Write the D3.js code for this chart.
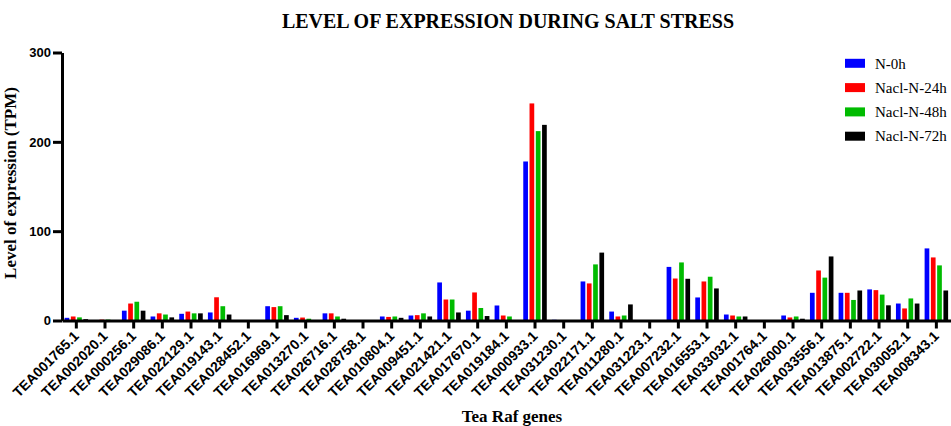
<!DOCTYPE html>
<html>
<head>
<meta charset="utf-8">
<script src="https://cdn.jsdelivr.net/npm/d3@7"></script>
<style>
  html, body { margin: 0; padding: 0; background: #fff; }
  svg { display: block; }
</style>
</head>
<body>
<svg id="chart" width="951" height="426"></svg>
<script>
const categories = ["TEA001765.1","TEA002020.1","TEA000256.1","TEA029086.1","TEA022129.1","TEA019143.1","TEA028452.1","TEA016969.1","TEA013270.1","TEA026716.1","TEA028758.1","TEA010804.1","TEA009451.1","TEA021421.1","TEA017670.1","TEA019184.1","TEA000933.1","TEA031230.1","TEA022171.1","TEA011280.1","TEA031223.1","TEA007232.1","TEA016553.1","TEA033032.1","TEA001764.1","TEA026000.1","TEA033556.1","TEA013875.1","TEA002722.1","TEA030052.1","TEA008343.1"];
const seriesNames = ["N-0h","Nacl-N-24h","Nacl-N-48h","Nacl-N-72h"];
const seriesColors = ["#0000ff","#ff0000","#00bb00","#000000"];
const n0h  = [3, 0.5, 11, 4.5, 7.5, 9, 0, 16, 3, 8, 0, 4.5, 5.6, 42.6, 11, 16.8, 178, 0.8, 43.7, 10, 0, 60, 25.8, 6.7, 0.5, 5.6, 31, 31, 34.8, 19, 80.7];
const n24h = [4.5, 1, 19, 8, 10, 26, 0, 15, 3.3, 8, 0, 4, 6, 23.5, 31.4, 5.6, 243, 0.5, 41.5, 4.5, 0, 47, 43.7, 5.6, 0, 3.4, 56, 31, 34, 13.5, 70.6];
const n48h = [3.5, 1, 21, 6.7, 8, 16, 0, 16, 2, 4.5, 0, 4.5, 8, 23.5, 14, 4.5, 212, 0.3, 62.8, 5.6, 0, 65, 49, 4.5, 0, 4.5, 48, 23, 29, 24.7, 61.7];
const n72h = [1.5, 0, 11, 3.5, 8, 6.7, 0, 6, 0.5, 2, 0, 3, 4.5, 9, 5, 0, 219, 0, 76, 18, 0, 46.7, 35.9, 4.5, 0, 2, 71.7, 33.6, 17, 19, 33.6];
const yTicks = [0, 100, 200, 300];
const titleText = "LEVEL OF EXPRESSION DURING SALT STRESS";
const xTitle = "Tea Raf genes";
const yTitle = "Level of expression (TPM)";

const seriesValues = [n0h, n24h, n48h, n72h];
const svg = d3.select("#chart");

const x0 = d3.scaleBand().domain(categories).range([62, 950.7]).paddingInner(0.18).paddingOuter(0.09);
const x1 = d3.scaleBand().domain(seriesNames).range([0, x0.bandwidth()]).paddingInner(0.25);
const y = d3.scaleLinear().domain([0, 300]).range([320.5, 52.5]);
const color = d3.scaleOrdinal().domain(seriesNames).range(seriesColors);

// bars
const groups = svg.append("g").selectAll("g").data(categories).join("g")
  .attr("transform", d => `translate(${x0(d)},0)`);
groups.selectAll("rect")
  .data((c, i) => seriesNames.map((s, k) => ({ s, v: seriesValues[k][i] })))
  .join("rect")
  .attr("x", d => x1(d.s))
  .attr("width", x1.bandwidth())
  .attr("y", d => y(d.v))
  .attr("height", d => Math.max(0, y(0) - y(d.v)))
  .attr("fill", d => color(d.s));

// x axis
const xAxis = svg.append("g").attr("transform", `translate(0,${y(0)})`)
  .call(d3.axisBottom(x0).tickSize(8).tickSizeOuter(0).tickPadding(4));
xAxis.select(".domain").attr("stroke", "#000").attr("stroke-width", 3);
xAxis.selectAll(".tick line").attr("stroke", "#000").attr("stroke-width", 3);
xAxis.selectAll(".tick text")
  .attr("font-family", "'Liberation Sans', Arial, sans-serif")
  .attr("font-weight", "bold")
  .attr("font-size", 14)
  .attr("fill", "#000")
  .attr("text-anchor", "end")
  .attr("x", 0).attr("y", 0)
  .attr("dy", "0.35em")
  .attr("transform", "translate(0,13) rotate(-45)");

// y axis
const yAxis = svg.append("g").attr("transform", "translate(62,0)")
  .call(d3.axisLeft(y).tickValues(yTicks).tickSize(9).tickSizeOuter(0).tickPadding(2));
yAxis.select(".domain").attr("stroke", "#000").attr("stroke-width", 3);
yAxis.selectAll(".tick line").attr("stroke", "#000").attr("stroke-width", 3);
yAxis.selectAll(".tick text")
  .attr("font-family", "'Liberation Sans', Arial, sans-serif")
  .attr("font-weight", "bold")
  .attr("font-size", 13)
  .attr("fill", "#000");

// title
svg.append("text")
  .attr("x", 508).attr("y", 28)
  .attr("text-anchor", "middle")
  .attr("font-family", "'Liberation Serif', 'Times New Roman', serif")
  .attr("font-weight", "bold")
  .attr("font-size", 20)
  .text(titleText);

// axis titles
svg.append("text")
  .attr("x", 512).attr("y", 422)
  .attr("text-anchor", "middle")
  .attr("font-family", "'Liberation Serif', 'Times New Roman', serif")
  .attr("font-weight", "bold")
  .attr("font-size", 17)
  .text(xTitle);

svg.append("text")
  .attr("transform", "translate(16,183) rotate(-90)")
  .attr("text-anchor", "middle")
  .attr("font-family", "'Liberation Serif', 'Times New Roman', serif")
  .attr("font-weight", "bold")
  .attr("font-size", 17)
  .text(yTitle);

// legend
const legend = svg.append("g").selectAll("g").data(seriesNames).join("g")
  .attr("transform", (d, i) => `translate(845,${63.3 + i * 24.3})`);
legend.append("rect")
  .attr("x", 0).attr("y", -4.5).attr("width", 20).attr("height", 9)
  .attr("fill", d => color(d));
legend.append("text")
  .attr("x", 30).attr("y", 0).attr("dy", "0.35em")
  .attr("font-family", "'Liberation Serif', 'Times New Roman', serif")
  .attr("font-size", 15)
  .text(d => d);
</script>
</body>
</html>
